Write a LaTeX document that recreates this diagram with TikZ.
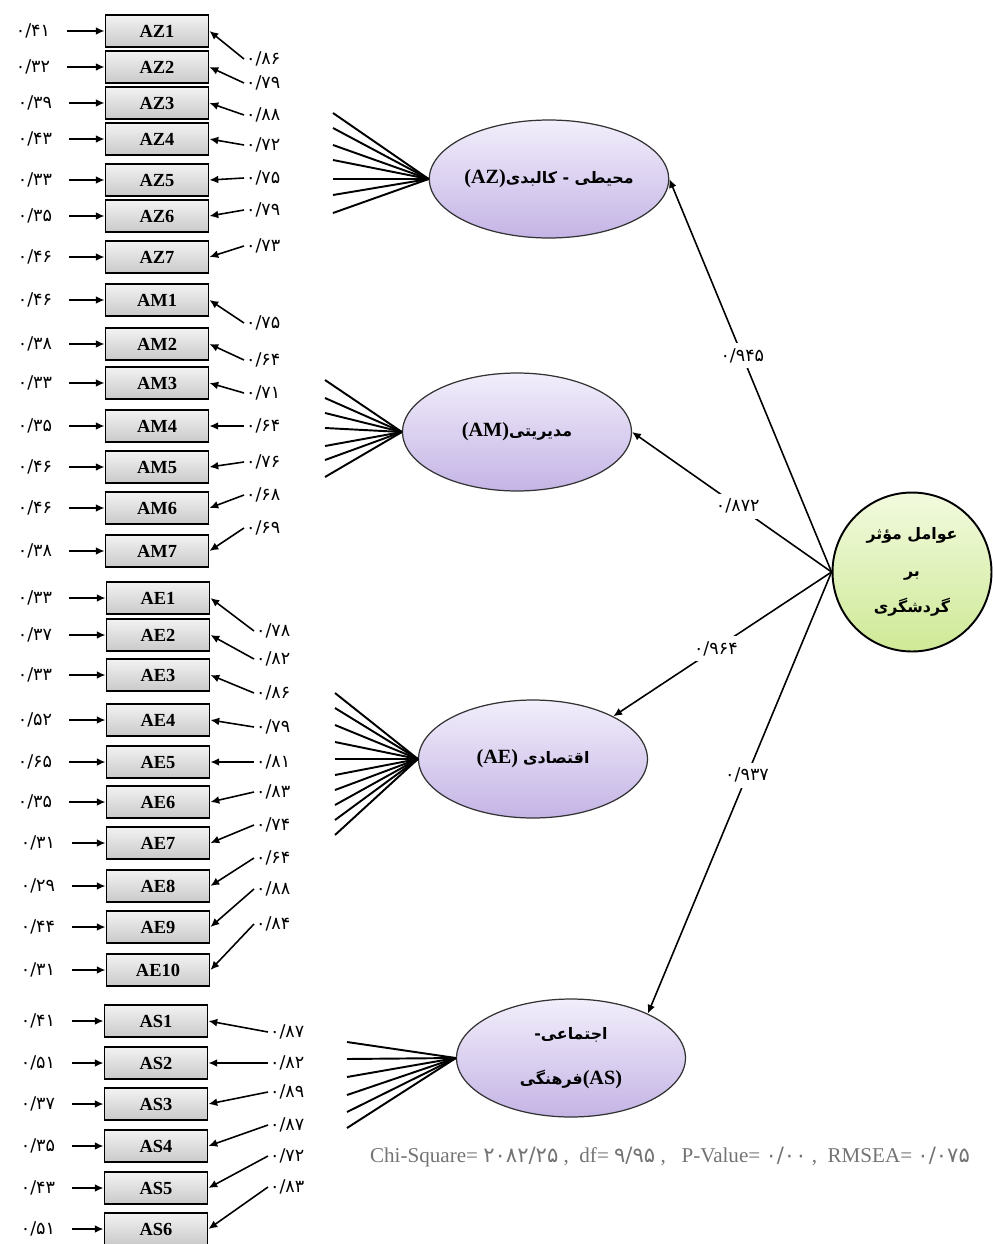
\documentclass[tikz,border=0pt]{standalone}
\usepackage{fontspec}
\usepackage{tikz}
\usetikzlibrary{shapes.geometric,arrows.meta}
\setmainfont{Liberation Serif}
\newfontfamily\fa[Script=Arabic]{DejaVu Sans}
\TeXXeTstate=1
\newcommand{\fatxt}[1]{{\fa\fontsize{9}{10}\selectfont\beginR #1\endR}}

\definecolor{lavtop}{RGB}{242,238,251}
\definecolor{lavbot}{RGB}{196,180,229}
\definecolor{limetop}{RGB}{242,250,222}
\definecolor{limebot}{RGB}{206,233,150}

\begin{document}
\begin{tikzpicture}[x=0.02cm, y=-0.02cm,
        item/.style={draw, line width=1.1pt, top color=gray!10, bottom color=gray!42, minimum width=2.06cm, minimum height=0.64cm, inner sep=0pt, font=\bfseries\fontsize{10.5}{12}\selectfont},
        err/.style={font=\fa\fontsize{10}{11}\selectfont, inner sep=1pt},
        load/.style={anchor=west, font=\fa\fontsize{10}{11}\selectfont, inner sep=1pt},
        errarr/.style={-{Latex[length=5pt,width=4.5pt]}, line width=1.1pt, shorten <=0.3cm},
        loadarr/.style={-{Latex[length=5pt,width=4.5pt]}, line width=0.9pt},
        fan/.style={line width=1.1pt},
        latent/.style={ellipse, draw=black!80, line width=0.7pt, top color=lavtop, bottom color=lavbot, minimum width=4.58cm, minimum height=2.36cm, inner sep=0pt, align=center, font=\bfseries\fontsize{11.5}{13}\selectfont},
        goal/.style={circle, draw, line width=1.1pt, top color=limetop, bottom color=limebot, minimum size=3.18cm, inner sep=0pt, align=center, font=\bfseries\fontsize{9}{21}\selectfont},
        plabel/.style={fill=white, font=\fa\fontsize{10}{11}\selectfont, inner sep=3pt},
        patharr/.style={-{Latex[length=5pt,width=4.5pt]}, line width=0.9pt}]

                \useasboundingbox (0,0) rectangle (993,1244);

                % Latent variables
                \node[latent] (AZ) at (549,179) {(AZ)\fatxt{محیطی - کالبدی}};
                \node[latent] (AM) at (517,432) {(AM)\fatxt{مدیریتی}};
                \node[latent] (AE) at (533,759) {(AE) \fatxt{اقتصادی}};
                \node[latent, font=\bfseries\fontsize{11.5}{26}\selectfont] (AS) at (571,1058) {\fatxt{اجتماعی-}\\\fatxt{فرهنگی}(AS)};
                \node[goal] (goal) at (912,572) {{\fa\beginR عوامل مؤثر\endR}\\{\fa\beginR بر\endR}\\{\fa\beginR گردشگری\endR}};

                % Indicators
                \node[item] (AZ1) at (157,31) {AZ1};
                \node[item] (AZ2) at (157,67) {AZ2};
                \node[item] (AZ3) at (157,103) {AZ3};
                \node[item] (AZ4) at (157,139) {AZ4};
                \node[item] (AZ5) at (157,180) {AZ5};
                \node[item] (AZ6) at (157,216) {AZ6};
                \node[item] (AZ7) at (157,257) {AZ7};
                \node[item] (AM1) at (157,300) {AM1};
                \node[item] (AM2) at (157,344) {AM2};
                \node[item] (AM3) at (157,383) {AM3};
                \node[item] (AM4) at (157,426) {AM4};
                \node[item] (AM5) at (157,467) {AM5};
                \node[item] (AM6) at (157,508) {AM6};
                \node[item] (AM7) at (157,551) {AM7};
                \node[item] (AE1) at (158,598) {AE1};
                \node[item] (AE2) at (158,635) {AE2};
                \node[item] (AE3) at (158,675) {AE3};
                \node[item] (AE4) at (158,720) {AE4};
                \node[item] (AE5) at (158,762) {AE5};
                \node[item] (AE6) at (158,802) {AE6};
                \node[item] (AE7) at (158,843) {AE7};
                \node[item] (AE8) at (158,886) {AE8};
                \node[item] (AE9) at (158,927) {AE9};
                \node[item] (AE10) at (158,970) {AE10};
                \node[item] (AS1) at (156,1021) {AS1};
                \node[item] (AS2) at (156,1063) {AS2};
                \node[item] (AS3) at (156,1104) {AS3};
                \node[item] (AS4) at (156,1146) {AS4};
                \node[item] (AS5) at (156,1188) {AS5};
                \node[item] (AS6) at (156,1229) {AS6};

                % Error variances
                \node[err] (eAZ1) at (33,31) {۰/۴۱};
                \node[err] (eAZ2) at (33,67) {۰/۳۲};
                \node[err] (eAZ3) at (35,103) {۰/۳۹};
                \node[err] (eAZ4) at (35,139) {۰/۴۳};
                \node[err] (eAZ5) at (35,180) {۰/۳۳};
                \node[err] (eAZ6) at (35,216) {۰/۳۵};
                \node[err] (eAZ7) at (35,257) {۰/۴۶};
                \node[err] (eAM1) at (35,300) {۰/۴۶};
                \node[err] (eAM2) at (35,344) {۰/۳۸};
                \node[err] (eAM3) at (35,383) {۰/۳۳};
                \node[err] (eAM4) at (35,426) {۰/۳۵};
                \node[err] (eAM5) at (35,467) {۰/۴۶};
                \node[err] (eAM6) at (35,508) {۰/۴۶};
                \node[err] (eAM7) at (35,551) {۰/۳۸};
                \node[err] (eAE1) at (35,598) {۰/۳۳};
                \node[err] (eAE2) at (35,635) {۰/۳۷};
                \node[err] (eAE3) at (35,675) {۰/۳۳};
                \node[err] (eAE4) at (35,720) {۰/۵۲};
                \node[err] (eAE5) at (35,762) {۰/۶۵};
                \node[err] (eAE6) at (35,802) {۰/۳۵};
                \node[err] (eAE7) at (38,843) {۰/۳۱};
                \node[err] (eAE8) at (38,886) {۰/۲۹};
                \node[err] (eAE9) at (38,927) {۰/۴۴};
                \node[err] (eAE10) at (38,970) {۰/۳۱};
                \node[err] (eAS1) at (38,1021) {۰/۴۱};
                \node[err] (eAS2) at (38,1063) {۰/۵۱};
                \node[err] (eAS3) at (38,1104) {۰/۳۷};
                \node[err] (eAS4) at (38,1146) {۰/۳۵};
                \node[err] (eAS5) at (38,1188) {۰/۴۳};
                \node[err] (eAS6) at (38,1229) {۰/۵۱};

                % Loadings
                \node[load] (lAZ1) at (244,59) {۰/۸۶};
                \node[load] (lAZ2) at (244,83) {۰/۷۹};
                \node[load] (lAZ3) at (244,115) {۰/۸۸};
                \node[load] (lAZ4) at (244,145) {۰/۷۲};
                \node[load] (lAZ5) at (244,178) {۰/۷۵};
                \node[load] (lAZ6) at (244,210) {۰/۷۹};
                \node[load] (lAZ7) at (244,246) {۰/۷۳};
                \node[load] (lAM1) at (244,323) {۰/۷۵};
                \node[load] (lAM2) at (244,360) {۰/۶۴};
                \node[load] (lAM3) at (244,393) {۰/۷۱};
                \node[load] (lAM4) at (244,426) {۰/۶۴};
                \node[load] (lAM5) at (244,462) {۰/۷۶};
                \node[load] (lAM6) at (244,495) {۰/۶۸};
                \node[load] (lAM7) at (244,528) {۰/۶۹};
                \node[load] (lAE1) at (254,631) {۰/۷۸};
                \node[load] (lAE2) at (254,659) {۰/۸۲};
                \node[load] (lAE3) at (254,693) {۰/۸۶};
                \node[load] (lAE4) at (254,727) {۰/۷۹};
                \node[load] (lAE5) at (254,762) {۰/۸۱};
                \node[load] (lAE6) at (254,792) {۰/۸۳};
                \node[load] (lAE7) at (254,825) {۰/۷۴};
                \node[load] (lAE8) at (254,858) {۰/۶۴};
                \node[load] (lAE9) at (254,889) {۰/۸۸};
                \node[load] (lAE10) at (254,924) {۰/۸۴};
                \node[load] (lAS1) at (268,1032) {۰/۸۷};
                \node[load] (lAS2) at (268,1063) {۰/۸۲};
                \node[load] (lAS3) at (268,1092) {۰/۸۹};
                \node[load] (lAS4) at (268,1125) {۰/۸۷};
                \node[load] (lAS5) at (268,1156) {۰/۷۲};
                \node[load] (lAS6) at (268,1187) {۰/۸۳};

                % Fan ends
                \coordinate (fAZ1) at (333,113);
                \coordinate (fAZ2) at (333,128);
                \coordinate (fAZ3) at (333,145);
                \coordinate (fAZ4) at (333,160);
                \coordinate (fAZ5) at (333,179);
                \coordinate (fAZ6) at (333,195);
                \coordinate (fAZ7) at (333,213);
                \coordinate (fAM1) at (325,380);
                \coordinate (fAM2) at (325,398);
                \coordinate (fAM3) at (325,413);
                \coordinate (fAM4) at (325,428);
                \coordinate (fAM5) at (325,446);
                \coordinate (fAM6) at (325,460);
                \coordinate (fAM7) at (325,477);
                \coordinate (fAE1) at (335,693);
                \coordinate (fAE2) at (335,708);
                \coordinate (fAE3) at (335,725);
                \coordinate (fAE4) at (335,742);
                \coordinate (fAE5) at (335,759);
                \coordinate (fAE6) at (335,775);
                \coordinate (fAE7) at (335,790);
                \coordinate (fAE8) at (335,805);
                \coordinate (fAE9) at (335,820);
                \coordinate (fAE10) at (335,835);
                \coordinate (fAS1) at (347,1042);
                \coordinate (fAS2) at (347,1059);
                \coordinate (fAS3) at (347,1077);
                \coordinate (fAS4) at (347,1095);
                \coordinate (fAS5) at (347,1112);
                \coordinate (fAS6) at (347,1128);

                % Fit indices
                \node[text=black!55, font=\fontsize{12}{14}\selectfont] (fit) at (670,1157) {Chi-Square= {\fa ۲۰۸۲/۲۵} ,\ \ df= {\fa ۹/۹۵} ,\ \ \ P-Value= {\fa ۰/۰۰} ,\ \ RMSEA= {\fa ۰/۰۷۵}};

                % Edges
                \draw[errarr] (eAZ1) -- (AZ1);
                \draw[errarr] (eAZ2) -- (AZ2);
                \draw[errarr] (eAZ3) -- (AZ3);
                \draw[errarr] (eAZ4) -- (AZ4);
                \draw[errarr] (eAZ5) -- (AZ5);
                \draw[errarr] (eAZ6) -- (AZ6);
                \draw[errarr] (eAZ7) -- (AZ7);
                \draw[errarr] (eAM1) -- (AM1);
                \draw[errarr] (eAM2) -- (AM2);
                \draw[errarr] (eAM3) -- (AM3);
                \draw[errarr] (eAM4) -- (AM4);
                \draw[errarr] (eAM5) -- (AM5);
                \draw[errarr] (eAM6) -- (AM6);
                \draw[errarr] (eAM7) -- (AM7);
                \draw[errarr] (eAE1) -- (AE1);
                \draw[errarr] (eAE2) -- (AE2);
                \draw[errarr] (eAE3) -- (AE3);
                \draw[errarr] (eAE4) -- (AE4);
                \draw[errarr] (eAE5) -- (AE5);
                \draw[errarr] (eAE6) -- (AE6);
                \draw[errarr] (eAE7) -- (AE7);
                \draw[errarr] (eAE8) -- (AE8);
                \draw[errarr] (eAE9) -- (AE9);
                \draw[errarr] (eAE10) -- (AE10);
                \draw[errarr] (eAS1) -- (AS1);
                \draw[errarr] (eAS2) -- (AS2);
                \draw[errarr] (eAS3) -- (AS3);
                \draw[errarr] (eAS4) -- (AS4);
                \draw[errarr] (eAS5) -- (AS5);
                \draw[errarr] (eAS6) -- (AS6);

                \draw[loadarr] (lAZ1.west) -- (AZ1.east);
                \draw[loadarr] (lAZ2.west) -- (AZ2.east);
                \draw[loadarr] (lAZ3.west) -- (AZ3.east);
                \draw[loadarr] (lAZ4.west) -- (AZ4.east);
                \draw[loadarr] (lAZ5.west) -- (AZ5.east);
                \draw[loadarr] (lAZ6.west) -- (AZ6.east);
                \draw[loadarr] (lAZ7.west) -- (AZ7.east);
                \draw[loadarr] (lAM1.west) -- (AM1.east);
                \draw[loadarr] (lAM2.west) -- (AM2.east);
                \draw[loadarr] (lAM3.west) -- (AM3.east);
                \draw[loadarr] (lAM4.west) -- (AM4.east);
                \draw[loadarr] (lAM5.west) -- (AM5.east);
                \draw[loadarr] (lAM6.west) -- (AM6.east);
                \draw[loadarr] (lAM7.west) -- (AM7.east);
                \draw[loadarr] (lAE1.west) -- (AE1.east);
                \draw[loadarr] (lAE2.west) -- (AE2.east);
                \draw[loadarr] (lAE3.west) -- (AE3.east);
                \draw[loadarr] (lAE4.west) -- (AE4.east);
                \draw[loadarr] (lAE5.west) -- (AE5.east);
                \draw[loadarr] (lAE6.west) -- (AE6.east);
                \draw[loadarr] (lAE7.west) -- (AE7.east);
                \draw[loadarr] (lAE8.west) -- (AE8.east);
                \draw[loadarr] (lAE9.west) -- (AE9.east);
                \draw[loadarr] (lAE10.west) -- (AE10.east);
                \draw[loadarr] (lAS1.west) -- (AS1.east);
                \draw[loadarr] (lAS2.west) -- (AS2.east);
                \draw[loadarr] (lAS3.west) -- (AS3.east);
                \draw[loadarr] (lAS4.west) -- (AS4.east);
                \draw[loadarr] (lAS5.west) -- (AS5.east);
                \draw[loadarr] (lAS6.west) -- (AS6.east);

                \draw[fan] (AZ.west) -- (fAZ1);
                \draw[fan] (AZ.west) -- (fAZ2);
                \draw[fan] (AZ.west) -- (fAZ3);
                \draw[fan] (AZ.west) -- (fAZ4);
                \draw[fan] (AZ.west) -- (fAZ5);
                \draw[fan] (AZ.west) -- (fAZ6);
                \draw[fan] (AZ.west) -- (fAZ7);
                \draw[fan] (AM.west) -- (fAM1);
                \draw[fan] (AM.west) -- (fAM2);
                \draw[fan] (AM.west) -- (fAM3);
                \draw[fan] (AM.west) -- (fAM4);
                \draw[fan] (AM.west) -- (fAM5);
                \draw[fan] (AM.west) -- (fAM6);
                \draw[fan] (AM.west) -- (fAM7);
                \draw[fan] (AE.west) -- (fAE1);
                \draw[fan] (AE.west) -- (fAE2);
                \draw[fan] (AE.west) -- (fAE3);
                \draw[fan] (AE.west) -- (fAE4);
                \draw[fan] (AE.west) -- (fAE5);
                \draw[fan] (AE.west) -- (fAE6);
                \draw[fan] (AE.west) -- (fAE7);
                \draw[fan] (AE.west) -- (fAE8);
                \draw[fan] (AE.west) -- (fAE9);
                \draw[fan] (AE.west) -- (fAE10);
                \draw[fan] (AS.west) -- (fAS1);
                \draw[fan] (AS.west) -- (fAS2);
                \draw[fan] (AS.west) -- (fAS3);
                \draw[fan] (AS.west) -- (fAS4);
                \draw[fan] (AS.west) -- (fAS5);
                \draw[fan] (AS.west) -- (fAS6);

                \draw[patharr] (goal.west) -- node[plabel, pos=0.55] {۰/۹۴۵} (AZ.east);
                \draw[patharr] (goal.west) -- node[plabel, pos=0.47] {۰/۸۷۲} (AM.east);
                \draw[patharr] (goal.west) -- node[plabel, pos=0.53] {۰/۹۶۴} (AE.28);
                \draw[patharr] (goal.west) -- node[plabel, pos=0.46] {۰/۹۳۷} (AS.30);

\end{tikzpicture}
\end{document}
